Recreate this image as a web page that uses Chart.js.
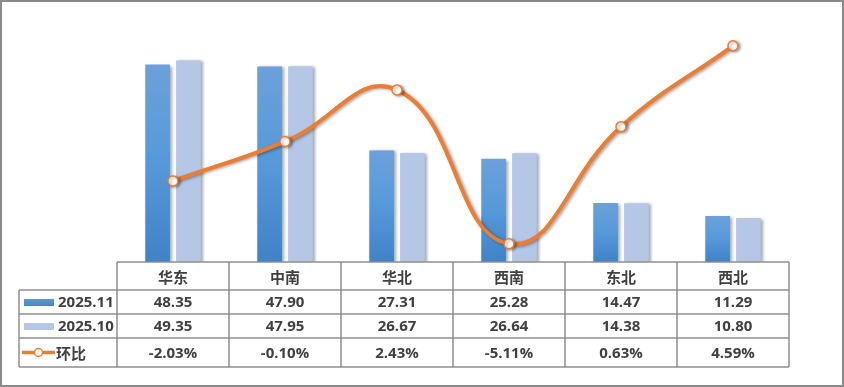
<!DOCTYPE html>
<html>
<head>
<meta charset="utf-8">
<script src="https://cdn.jsdelivr.net/npm/chart.js@4"></script>
<style>
  html, body { margin: 0; padding: 0; background: #fff; }
  #wrap { width: 844px; height: 387px; }
</style>
</head>
<body>
<div id="wrap"><canvas id="regionChart" width="844" height="387"></canvas></div>
<script>
const regions = ['华东', '中南', '华北', '西南', '东北', '西北'];
const nov2025 = [48.35, 47.90, 27.31, 25.28, 14.47, 11.29];
const oct2025 = [49.35, 47.95, 26.67, 26.64, 14.38, 10.80];
const momPct = [-2.03, -0.10, 2.43, -5.11, 0.63, 4.59];

const seriesNames = ['2025.11', '2025.10', '环比'];

const ORANGE = '#ED7D31';
const LIGHT = '#B4C7E7';
const GRID = '#8E8E8E';
const TEXT = '#404040';
const FONT = 'bold 15px "Open Sans", "Noto Sans CJK SC", sans-serif';
const CJK_FONT = 'bold 15px "Noto Sans CJK SC", "Open Sans", sans-serif';

// per-bar gradient, like the Excel fill
function blueFill(context) {
  const chart = context.chart;
  const y = chart.scales && chart.scales.y;
  if (!y || context.raw == null) return '#5B9BD5';
  const top = y.getPixelForValue(context.raw);
  const bottom = y.getPixelForValue(0);
  if (!isFinite(top) || !isFinite(bottom) || top === bottom) return '#5B9BD5';
  const g = chart.ctx.createLinearGradient(0, top, 0, bottom);
  g.addColorStop(0, '#6CA1D9');
  g.addColorStop(0.5, '#5599DA');
  g.addColorStop(1, '#3F82C6');
  return g;
}

function fmtPct(v) {
  return v.toFixed(2) + '%';
}

const shadowPlugin = {
  id: 'shadow',
  beforeDatasetDraw(chart, args) {
    const ctx = chart.ctx;
    ctx.save();
    ctx.shadowColor = 'rgba(0,0,0,0.35)';
    ctx.shadowBlur = 3;
    ctx.shadowOffsetX = 2;
    ctx.shadowOffsetY = 1;
  },
  afterDatasetDraw(chart) {
    chart.ctx.restore();
  }
};

const tablePlugin = {
  id: 'dataTable',
  afterDraw(chart) {
    const ctx = chart.ctx;
    const x = chart.scales.x;
    const area = chart.chartArea;
    const colW = x.width / regions.length;
    const left = area.left;
    const right = area.right;
    const labelLeft = 19;
    const rowH = [28, 24, 24, 29];
    const rows = [area.bottom];
    rowH.forEach(h => rows.push(rows[rows.length - 1] + h));

    ctx.save();
    ctx.strokeStyle = GRID;
    ctx.lineWidth = 1.5;
    ctx.beginPath();
    // horizontal lines
    ctx.moveTo(left, rows[0]); ctx.lineTo(right, rows[0]);
    for (let r = 1; r < rows.length; r++) {
      ctx.moveTo(labelLeft, rows[r]); ctx.lineTo(right, rows[r]);
    }
    // vertical lines
    ctx.moveTo(labelLeft, rows[1]); ctx.lineTo(labelLeft, rows[4]);
    for (let i = 0; i <= regions.length; i++) {
      const px = left + i * colW;
      ctx.moveTo(px, rows[0]); ctx.lineTo(px, rows[4]);
    }
    ctx.stroke();

    ctx.fillStyle = TEXT;
    ctx.textAlign = 'center';
    ctx.textBaseline = 'middle';
    const mid = r => (rows[r] + rows[r + 1]) / 2 + 1;
    regions.forEach((name, i) => {
      const cx = x.getPixelForValue(i);
      ctx.font = CJK_FONT;
      ctx.fillText(name, cx, mid(0));
      ctx.font = FONT;
      ctx.fillText(nov2025[i].toFixed(2), cx, mid(1));
      ctx.fillText(oct2025[i].toFixed(2), cx, mid(2));
      ctx.fillText(fmtPct(momPct[i]), cx, mid(3));
    });

    // legend keys in the first column
    const ky1 = mid(1), ky2 = mid(2), ky3 = mid(3);
    const g = ctx.createLinearGradient(0, ky1 - 4, 0, ky1 + 4);
    g.addColorStop(0, '#5B9BD5'); g.addColorStop(1, '#3F82C6');
    ctx.fillStyle = g;
    ctx.fillRect(24, ky1 - 4, 30, 7);
    ctx.fillStyle = LIGHT;
    ctx.fillRect(24, ky2 - 4, 30, 7);
    ctx.strokeStyle = ORANGE;
    ctx.lineWidth = 3.5;
    ctx.beginPath();
    ctx.moveTo(22, ky3 - 1); ctx.lineTo(55, ky3 - 1);
    ctx.stroke();
    ctx.beginPath();
    ctx.arc(38.5, ky3 - 1, 4, 0, Math.PI * 2);
    ctx.fillStyle = '#fff';
    ctx.fill();
    ctx.lineWidth = 1.5;
    ctx.stroke();

    ctx.fillStyle = TEXT;
    ctx.textAlign = 'left';
    ctx.font = FONT;
    ctx.fillText(seriesNames[0], 58, ky1);
    ctx.fillText(seriesNames[1], 58, ky2);
    ctx.font = CJK_FONT;
    ctx.fillText(seriesNames[2], 56, ky3);

    // outer frame
    ctx.strokeStyle = '#8A8A8A';
    ctx.lineWidth = 2;
    ctx.strokeRect(1, 1, chart.width - 2, chart.height - 2);
    ctx.restore();
  }
};

new Chart(document.getElementById('regionChart'), {
  type: 'bar',
  data: {
    labels: regions,
    datasets: [
      {
        type: 'line',
        label: seriesNames[2],
        data: momPct,
        yAxisID: 'y1',
        order: 0,
        borderColor: ORANGE,
        borderWidth: 4,
        tension: 0.45,
        pointRadius: 5,
        pointBackgroundColor: '#fff',
        pointBorderColor: ORANGE,
        pointBorderWidth: 1.5,
        fill: false
      },
      {
        label: seriesNames[0],
        data: nov2025,
        yAxisID: 'y',
        order: 1,
        backgroundColor: blueFill,
        categoryPercentage: 0.55,
        barPercentage: 0.8
      },
      {
        label: seriesNames[1],
        data: oct2025,
        yAxisID: 'y',
        order: 1,
        backgroundColor: LIGHT,
        categoryPercentage: 0.55,
        barPercentage: 0.8
      }
    ]
  },
  options: {
    responsive: false,
    animation: false,
    layout: { padding: { left: 117, right: 55, top: 17, bottom: 125 } },
    plugins: {
      legend: { display: false },
      tooltip: { enabled: false }
    },
    scales: {
      x: { display: false },
      y: { display: false, min: 0, max: 60 },
      y1: { display: false, min: -6, max: 6, position: 'right' }
    }
  },
  plugins: [shadowPlugin, tablePlugin]
});
</script>
</body>
</html>
